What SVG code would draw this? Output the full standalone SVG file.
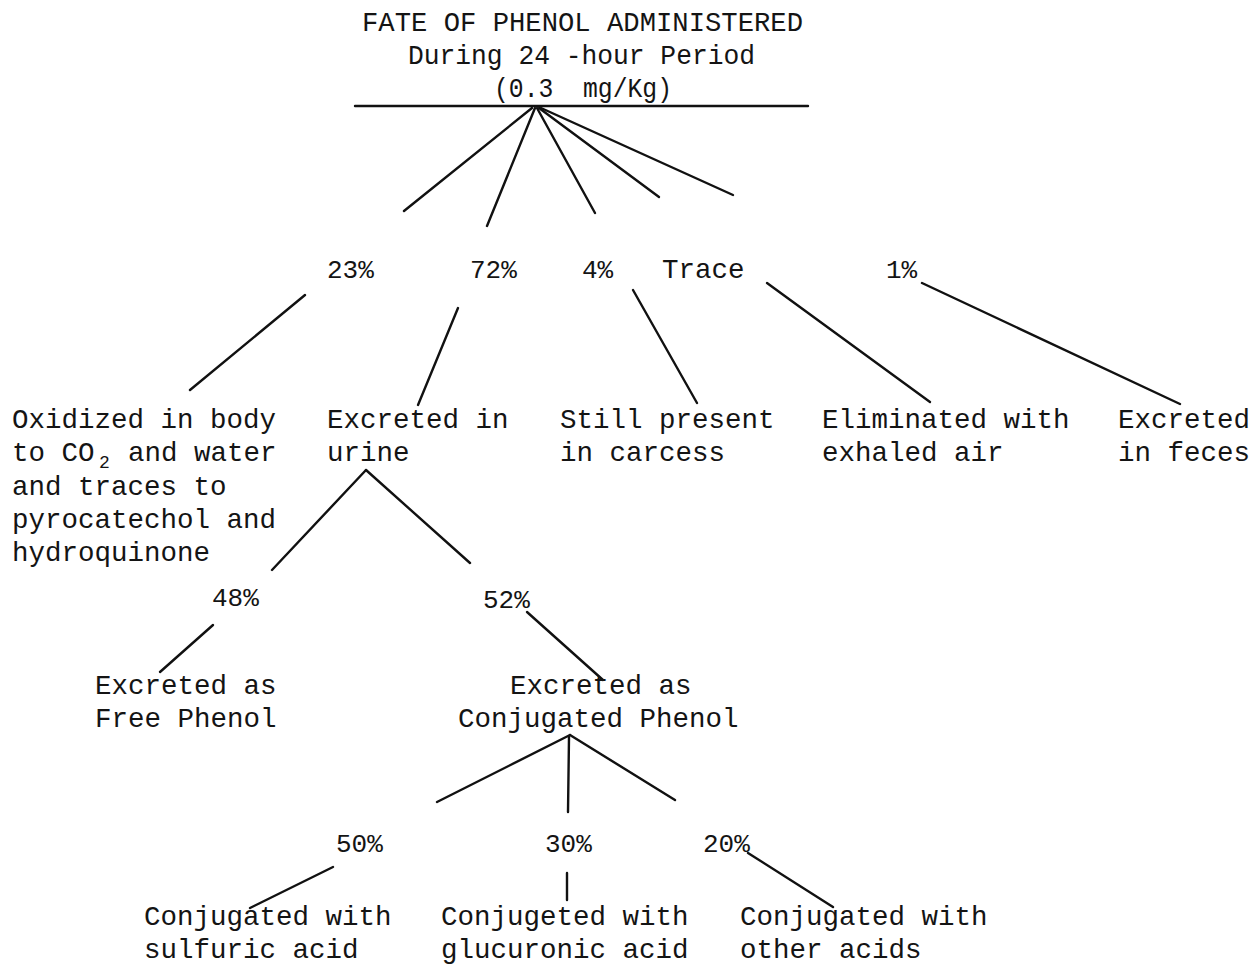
<svg xmlns="http://www.w3.org/2000/svg" width="1256" height="965" viewBox="0 0 1256 965">
<style>
text{font-family:"Liberation Mono","DejaVu Sans Mono",monospace;font-size:27.5px;fill:#141414;white-space:pre}
.p{font-size:26px}
.sub{font-size:18px}
line{stroke:#111;stroke-width:2.4;stroke-linecap:round}
</style>
<rect width="1256" height="965" fill="#fff"/>
<g id="title">
<text x="362" y="31" textLength="441" lengthAdjust="spacingAndGlyphs">FATE OF PHENOL ADMINISTERED</text>
<text x="408" y="64" textLength="347" lengthAdjust="spacingAndGlyphs">During 24 -hour Period</text>
<text x="494" y="97" textLength="178" lengthAdjust="spacingAndGlyphs">(0.3  mg/Kg)</text>
</g>
<g id="connectors">
<line x1="355" y1="106" x2="808" y2="106"/>
<line x1="532" y1="108" x2="404" y2="211"/>
<line x1="535" y1="108" x2="487" y2="226"/>
<line x1="537" y1="108" x2="595" y2="213"/>
<line x1="539" y1="108" x2="659" y2="197"/>
<line x1="541" y1="108" x2="733" y2="195"/>
<line x1="305" y1="295" x2="190" y2="390"/>
<line x1="458" y1="308" x2="418" y2="405"/>
<line x1="633" y1="290" x2="697" y2="403"/>
<line x1="767" y1="283" x2="930" y2="402"/>
<line x1="922" y1="283" x2="1180" y2="404"/>
<line x1="366" y1="470" x2="272" y2="570"/>
<line x1="366" y1="470" x2="470" y2="563"/>
<line x1="213" y1="625" x2="160" y2="672"/>
<line x1="527" y1="612" x2="603" y2="680"/>
<line x1="570" y1="735" x2="437" y2="802"/>
<line x1="569" y1="737" x2="568" y2="812"/>
<line x1="570" y1="735" x2="675" y2="800"/>
<line x1="333" y1="867" x2="250" y2="908"/>
<line x1="567" y1="873" x2="567" y2="900"/>
<line x1="748" y1="853" x2="833" y2="907"/>
</g>
<g id="p23"><text class="p" x="327" y="278">23%</text></g>
<g id="p72"><text class="p" x="470" y="278">72%</text></g>
<g id="p4"><text class="p" x="582" y="278">4%</text></g>
<g id="trace"><text x="662" y="278">Trace</text></g>
<g id="p1"><text class="p" x="886" y="278">1%</text></g>
<g id="oxidized">
<text x="12" y="428">Oxidized in body</text>
<text x="12" y="461">to CO</text>
<text class="sub" x="99" y="468">2</text>
<text x="128" y="461">and water</text>
<text x="12" y="495">and traces to</text>
<text x="12" y="528">pyrocatechol and</text>
<text x="12" y="561">hydroquinone</text>
</g>
<g id="urine">
<text x="327" y="428">Excreted in</text>
<text x="327" y="461">urine</text>
</g>
<g id="carcass">
<text x="560" y="428">Still present</text>
<text x="560" y="461">in carcess</text>
</g>
<g id="exhaled">
<text x="822" y="428">Eliminated with</text>
<text x="822" y="461">exhaled air</text>
</g>
<g id="feces">
<text x="1118" y="428">Excreted</text>
<text x="1118" y="461">in feces</text>
</g>
<g id="p48"><text class="p" x="212" y="606">48%</text></g>
<g id="p52"><text class="p" x="483" y="608">52%</text></g>
<g id="free">
<text x="95" y="694">Excreted as</text>
<text x="95" y="727">Free Phenol</text>
</g>
<g id="conjugated">
<text x="510" y="694">Excreted as</text>
<text x="458" y="727">Conjugated Phenol</text>
</g>
<g id="p50"><text class="p" x="336" y="852">50%</text></g>
<g id="p30"><text class="p" x="545" y="852">30%</text></g>
<g id="p20"><text class="p" x="703" y="852">20%</text></g>
<g id="sulfuric">
<text x="144" y="925">Conjugated with</text>
<text x="144" y="958">sulfuric acid</text>
</g>
<g id="glucuronic">
<text x="441" y="925">Conjugeted with</text>
<text x="441" y="958">glucuronic acid</text>
</g>
<g id="other">
<text x="740" y="925">Conjugated with</text>
<text x="740" y="958">other acids</text>
</g>
</svg>
